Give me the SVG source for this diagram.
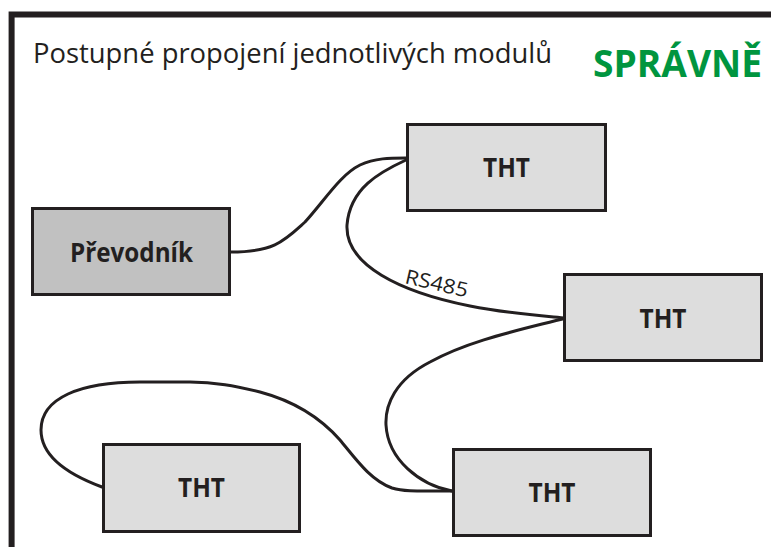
<svg xmlns="http://www.w3.org/2000/svg" width="771" height="547" viewBox="0 0 771 547">
<style>
.box{stroke:#231f20;stroke-width:3}
.tht{fill:#dddddd}
.conv{fill:#c1c1c1}
.lbl{font-family:"Open Sans","DejaVu Sans",sans-serif;font-weight:bold;font-size:26px;fill:#231f20;text-anchor:middle}
.wire{fill:none;stroke:#231f20;stroke-width:3;stroke-linecap:round}
</style>
<rect x="0" y="0" width="771" height="547" fill="#ffffff"/>
<path d="M11.6,547 V14.5 H771" fill="none" stroke="#231f20" stroke-width="6" stroke-linejoin="miter"/>
<text x="33" y="63" font-family="'Open Sans','DejaVu Sans',sans-serif" font-size="26.5" fill="#231f20" textLength="519" lengthAdjust="spacingAndGlyphs">Postupné propojení jednotlivých modulů</text>
<text x="593" y="77" font-family="'Open Sans','DejaVu Sans',sans-serif" font-weight="bold" font-size="37" fill="#00953f" textLength="169" lengthAdjust="spacingAndGlyphs">SPRÁVNĚ</text>
<g id="connectors">
<path class="wire" d="M231,252 C275,252 285,240 305,222 C325,200 340,175 360,165 C375,158 390,158 406,158"/>
<path class="wire" d="M406,160 C380,172 350,188 347,225 C345,265 400,292 470,306 C510,314 545,316 566,318"/>
<path class="wire" d="M566,318 C520,330 470,340 430,362 C395,380 385,405 386,425 C388,460 420,485 452,491"/>
<path class="wire" d="M452,491 C420,491 405,492 392,488 C370,480 355,458 340,440 C318,415 290,400 260,392 C235,386 215,382 190,382 L140,382 C80,382 41,398 41,430 C41,460 75,477 102,487"/>
<text x="404" y="283" transform="rotate(13 404 283)" font-family="'Open Sans','DejaVu Sans',sans-serif" font-size="20" fill="#231f20" textLength="64" lengthAdjust="spacingAndGlyphs">RS485</text>
</g>
<g id="prevodnik">
<rect class="box conv" x="32.5" y="208.5" width="197" height="86"/>
<text class="lbl" x="131.5" y="262" textLength="123" lengthAdjust="spacingAndGlyphs">Převodník</text>
</g>
<g id="tht1">
<rect class="box tht" x="407.5" y="124.5" width="198" height="86"/>
<text class="lbl" x="506.5" y="177" textLength="47" lengthAdjust="spacingAndGlyphs">THT</text>
</g>
<g id="tht2">
<rect class="box tht" x="564.5" y="274.5" width="197" height="86"/>
<text class="lbl" x="663" y="328" textLength="47" lengthAdjust="spacingAndGlyphs">THT</text>
</g>
<g id="tht3">
<rect class="box tht" x="103.5" y="444.5" width="196" height="87"/>
<text class="lbl" x="201.5" y="497" textLength="47" lengthAdjust="spacingAndGlyphs">THT</text>
</g>
<g id="tht4">
<rect class="box tht" x="453.5" y="449.5" width="197" height="86"/>
<text class="lbl" x="552" y="502" textLength="47" lengthAdjust="spacingAndGlyphs">THT</text>
</g>
</svg>
